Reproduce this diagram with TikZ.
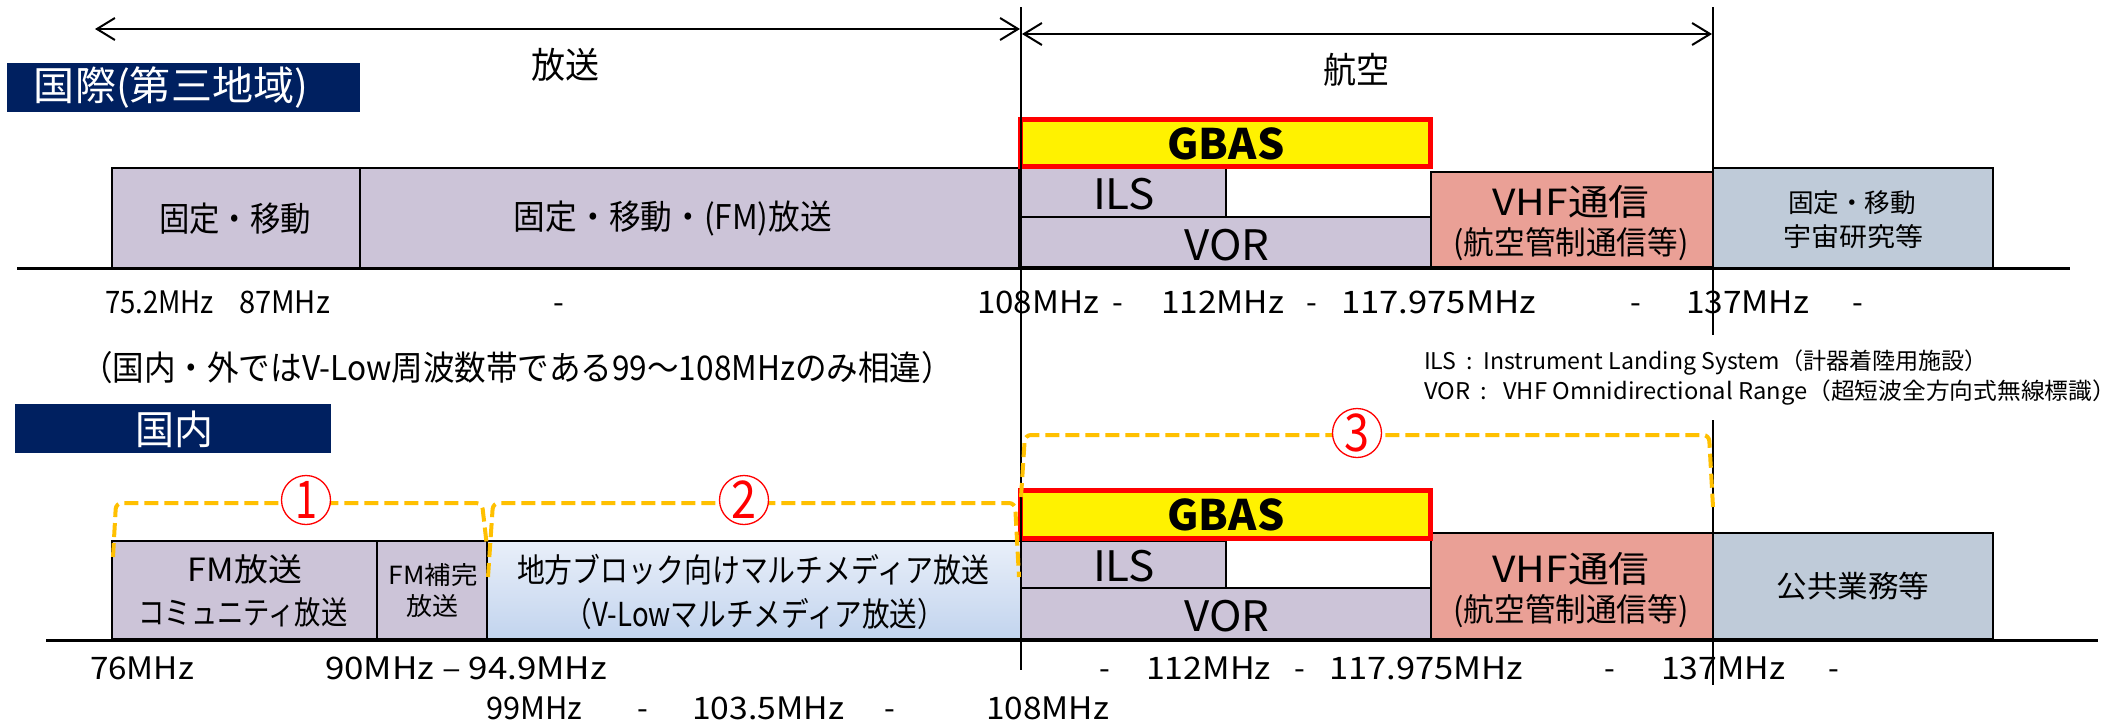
\documentclass[tikz,border=0pt]{standalone}
\usepackage{fontspec}
\usepackage{graphicx}
\setmainfont{Noto Sans CJK JP}
\usetikzlibrary{arrows.meta,fit}
\definecolor{lav}{RGB}{204,196,216}
\definecolor{salmon}{RGB}{234,160,150}
\definecolor{bgrey}{RGB}{191,203,217}
\definecolor{navy}{RGB}{0,32,96}
\definecolor{gold}{RGB}{255,192,0}
\definecolor{gtop}{RGB}{233,239,249}
\definecolor{gbot}{RGB}{194,212,238}
\newcommand\T[3]{{\fontsize{#1pt}{#1pt}\selectfont\resizebox{#2pt}{\height}{#3}}}
\begin{document}
\begin{tikzpicture}[x=1pt,y=-1pt,
  box/.style={draw=black,line width=1.8pt,inner sep=0pt,outer sep=0pt},
  txt/.style={inner sep=0pt,outer sep=0pt,text=black},
  freq/.style={inner sep=0pt,outer sep=0pt,anchor=base west,font=\fontsize{31pt}{31pt}\selectfont},
  dashlbl/.style={inner sep=0pt,outer sep=0pt,anchor=base,font=\fontsize{31pt}{31pt}\selectfont},
  titlebox/.style={fill=navy,inner sep=0pt,outer sep=0pt},
  gbasbox/.style={draw=red,fill=yellow,line width=5pt,inner sep=0pt,outer sep=0pt},
  bracket/.style={draw=gold,line width=4pt,dash pattern=on 14pt off 6pt,rounded corners=6pt},
  num/.style={circle,draw=red,line width=1.3pt,fill=white,text=red,minimum size=49pt,inner sep=0pt},
  vline/.style={draw=black,line width=1.5pt},
  baseln/.style={draw=black,line width=3pt},
  span/.style={draw=black,line width=2pt,{Straight Barb[length=18pt,width=22pt]}-{Straight Barb[length=18pt,width=22pt]}},
]
\useasboundingbox[fill=white] (0,0) rectangle (2118,726);

% title boxes
\node[titlebox,fit={(7,63) (360,112)}] (intl) {};
\node[txt,text=white,anchor=west] (intlt) at (34,88) {\T{40}{274}{国際(第三地域)}};
\node[titlebox,fit={(15,404) (331,453)}] (dom) {};
\node[txt,text=white] (domt) at (174,429) {\T{40}{78}{国内}};

% row 1 boxes
\node[box,fill=lav,fit={(112,168) (360,268)}] (a1) {};
\node[box,fill=lav,fit={(360,168) (1019,268)}] (a2) {};
\node[box,fill=lav,fit={(1021,168) (1226,217)}] (ils1) {};
\node[box,fill=lav,fit={(1021,217) (1431,267)}] (vor1) {};
\node[box,fill=salmon,fit={(1431,172) (1713,267)}] (vhf1) {};
\node[box,fill=bgrey,fit={(1713,168) (1993,268)}] (r1) {};
\node[gbasbox,fit={(1020.5,119.5) (1430.5,166.5)}] (g1) {};

% row 2 boxes
\node[box,fill=lav,fit={(112,541) (377,639)}] (b1) {};
\node[box,fill=lav,fit={(377,541) (487,639)}] (b2) {};
\node[box,top color=gtop,bottom color=gbot,fit={(487,541) (1021,639)}] (b3) {};
\node[box,fill=lav,fit={(1021,541) (1226,588)}] (ils2) {};
\node[box,fill=lav,fit={(1021,588) (1431,639)}] (vor2) {};
\node[box,fill=salmon,fit={(1431,533) (1713,639)}] (vhf2) {};
\node[box,fill=bgrey,fit={(1713,533) (1993,639)}] (p2) {};
\node[gbasbox,fit={(1020.5,490.5) (1430.5,538.5)}] (g2) {};

% baselines
\coordinate (bl1a) at (17,268); \coordinate (bl1b) at (2070,268);
\coordinate (bl2a) at (46,640); \coordinate (bl2b) at (2098,640);
\draw[baseln] (bl1a) -- (bl1b);
\draw[baseln] (bl2a) -- (bl2b);

% box texts row 1
\node[txt] (a1t) at (235,219) {\T{34}{152}{固定・移動}};
\node[txt] (a2t) at (673,219) {\T{34}{318}{固定・移動・(FM)放送}};
\node[txt] (g1t) at (1226,144) {\T{42}{117}{\bfseries GBAS}};
\node[txt] (ils1t) at (1124,194) {\T{42}{62}{ILS}};
\node[txt] (vor1t) at (1227,245) {\T{42}{85}{VOR}};
\node[txt] (vhf1t) at (1571,202) {\T{36}{157}{VHF通信}};
\node[txt] (vhf1s) at (1571,244) {\T{32}{235}{(航空管制通信等)}};
\node[txt] (r1a) at (1852,203) {\T{26}{128}{固定・移動}};
\node[txt] (r1b) at (1853,237) {\T{26}{140}{宇宙研究等}};

% box texts row 2
\node[txt] (b1a) at (245,569) {\T{32}{114}{FM放送}};
\node[txt] (b1b) at (243,612) {\T{32}{209}{コミュニティ放送}};
\node[txt] (b2a) at (433,575) {\T{25}{89}{FM補完}};
\node[txt] (b2b) at (432,606) {\T{25}{52}{放送}};
\node[txt] (b3a) at (753,570) {\T{33}{472}{地方ブロック向けマルチメディア放送}};
\node[txt] (b3b) at (755,614) {\T{33}{380}{（V-Lowマルチメディア放送）}};
\node[txt] (g2t) at (1226,515) {\T{42}{117}{\bfseries GBAS}};
\node[txt] (ils2t) at (1124,566) {\T{42}{62}{ILS}};
\node[txt] (vor2t) at (1227,616) {\T{42}{85}{VOR}};
\node[txt] (vhf2t) at (1571,569) {\T{36}{157}{VHF通信}};
\node[txt] (vhf2s) at (1571,611) {\T{32}{235}{(航空管制通信等)}};
\node[txt] (p2t) at (1853,586) {\T{30}{153}{公共業務等}};

% headings
\node[txt] (hoso) at (565,65) {\T{36}{68}{放送}};
\node[txt] (koku) at (1356,70) {\T{36}{66}{航空}};
\node[txt,anchor=west] (note) at (81,368) {\T{34}{872}{（国内・外ではV-Low周波数帯である99～108MHzのみ相違）}};
\node[txt,anchor=west] (leg1) at (1424,363) {\T{23}{564}{ILS\ \ :\ \ Instrument Landing System（計器着陸用施設）}};
\node[txt,anchor=west] (leg2) at (1424,393) {\T{23}{692}{VOR\ \ :\ \ \ VHF Omnidirectional Range（超短波全方向式無線標識）}};

% frequency labels row 1
\node[freq] (f1a) at (105,313) {\resizebox{109pt}{\height}{75.2MHz}};
\node[freq] (f1b) at (239,313) {\resizebox{91pt}{\height}{87MHz}};
\node[dashlbl] (f1c) at (559,313) {-};
\node[freq] (f1d) at (977,313) {\resizebox{122pt}{\height}{108MHz}};
\node[dashlbl] (f1e) at (1118,313) {-};
\node[freq] (f1f) at (1161,313) {\resizebox{123pt}{\height}{112MHz}};
\node[dashlbl] (f1g) at (1312,313) {-};
\node[freq] (f1h) at (1341,313) {\resizebox{195pt}{\height}{117.975MHz}};
\node[dashlbl] (f1i) at (1636,313) {-};
\node[freq] (f1j) at (1686,313) {\resizebox{123pt}{\height}{137MHz}};
\node[dashlbl] (f1k) at (1858,313) {-};

% frequency labels row 2
\node[freq] (f2a) at (90,679) {\resizebox{104pt}{\height}{76MHz}};
\node[freq] (f2b) at (325,679) {\resizebox{282pt}{\height}{90MHz – 94.9MHz}};
\node[dashlbl] (f2c) at (1105,679) {-};
\node[freq] (f2d) at (1146,679) {\resizebox{125pt}{\height}{112MHz}};
\node[dashlbl] (f2e) at (1300,679) {-};
\node[freq] (f2f) at (1329,679) {\resizebox{194pt}{\height}{117.975MHz}};
\node[dashlbl] (f2g) at (1610,679) {-};
\node[freq] (f2h) at (1661,679) {\resizebox{124pt}{\height}{137MHz}};
\node[dashlbl] (f2i) at (1834,679) {-};

% frequency labels row 3
\node[freq] (f3a) at (486,719) {\resizebox{96pt}{\height}{99MHz}};
\node[dashlbl] (f3b) at (643,719) {-};
\node[freq] (f3c) at (692,719) {\resizebox{152pt}{\height}{103.5MHz}};
\node[dashlbl] (f3d) at (890,719) {-};
\node[freq] (f3e) at (986,719) {\resizebox{123pt}{\height}{108MHz}};

% vertical lines
\coordinate (v1t) at (1021,7); \coordinate (v1b) at (1021,670);
\coordinate (v2t) at (1713,7); \coordinate (v2m) at (1713,335);
\coordinate (v2n) at (1713,420); \coordinate (v2b) at (1713,685);
\draw[vline] (v1t) -- (v1b);
\draw[vline] (v2t) -- (v2m);
\draw[vline] (v2n) -- (v2b);

% span arrows
\coordinate (ar1a) at (95,29); \coordinate (ar1b) at (1020,29);
\coordinate (ar2a) at (1022,34); \coordinate (ar2b) at (1712,34);
\draw[span] (ar1a) -- (ar1b);
\draw[span] (ar2a) -- (ar2b);

% brackets
\coordinate (k1a) at (113,557); \coordinate (k1b) at (116,503);
\coordinate (k1c) at (482,503); \coordinate (k1d) at (487,547);
\coordinate (k2a) at (488,577); \coordinate (k2b) at (493,503);
\coordinate (k2c) at (1015,503); \coordinate (k2d) at (1019,577);
\coordinate (k3a) at (1021,497); \coordinate (k3b) at (1025,435);
\coordinate (k3c) at (1709,435); \coordinate (k3d) at (1713,507);
\draw[bracket] (k1a) -- (k1b) -- (k1c) -- (k1d);
\draw[bracket] (k2a) -- (k2b) -- (k2c) -- (k2d);
\draw[bracket] (k3a) -- (k3b) -- (k3c) -- (k3d);

% circled numbers
\node[num] (c1) at (306,500) {\T{52}{22}{1}};
\node[num] (c2) at (744,500) {\T{52}{25}{2}};
\node[num] (c3) at (1357,433) {\T{52}{25}{3}};
\end{tikzpicture}
\end{document}
